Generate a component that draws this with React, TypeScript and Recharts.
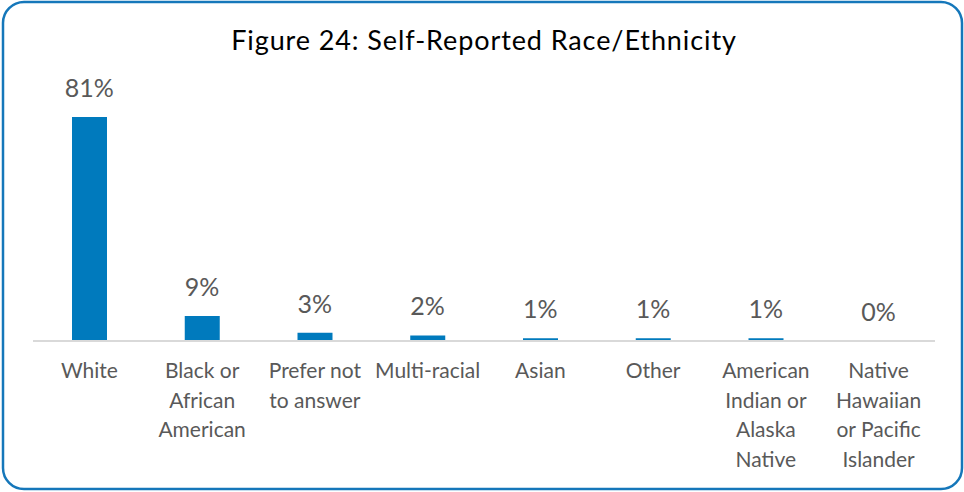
import React from 'react';
import { ComposedChart, Bar, Line, XAxis, YAxis, LabelList } from 'recharts';

const categories = [
  'White',
  'Black or\nAfrican\nAmerican',
  'Prefer not\nto answer',
  'Multi-racial',
  'Asian',
  'Other',
  'American\nIndian or\nAlaska\nNative',
  'Native\nHawaiian\nor Pacific\nIslander',
];
const percents = [81, 9, 3, 2, 1, 1, 1, 0];

const data = categories.map((name, i) => ({ name, value: percents[i] }));

const FONT = 'Lato, "Open Sans", sans-serif';
const GREY = '#595959';

// axis labels wrap over several lines, like the original
const MultiLineTick = (props: any) => {
  const { x, y, payload } = props;
  const lines = String(payload.value).split('\n');
  return (
    <text x={x} y={y + 37} textAnchor="middle" fill={GREY} fontSize={21} fontFamily={FONT}>
      {lines.map((line, i) => (
        <tspan key={i} x={x} dy={i === 0 ? 0 : 29.7}>
          {line}
        </tspan>
      ))}
    </text>
  );
};

const App: React.FC = () => {
  return (
    <div style={{ position: 'fixed', left: 0, top: 0, width: 964, height: 492, background: '#fff' }}>
      <ComposedChart width={964} height={492} data={data} margin={{ top: 92, right: 29, bottom: 0, left: 33 }}>
        <YAxis hide domain={[0, 90]} />
        <XAxis
          dataKey="name"
          height={151}
          interval={0}
          tickLine={false}
          tickSize={0}
          tickMargin={0}
          axisLine={{ stroke: '#d9d9d9', strokeWidth: 2 }}
          tick={<MultiLineTick />}
        />
        <Bar dataKey="value" fill="#007abd" barSize={35} isAnimationActive={false} />
        {/* invisible line only carries the value labels, so 0% still shows */}
        <Line dataKey="value" stroke="none" dot={false} activeDot={false} isAnimationActive={false}>
          <LabelList
            dataKey="value"
            position="top"
            offset={20}
            formatter={(v: any) => `${v}%`}
            style={{ fill: GREY, fontSize: 25, fontFamily: FONT }}
          />
        </Line>
      </ComposedChart>
      <svg width={964} height={492} style={{ position: 'absolute', left: 0, top: 0, pointerEvents: 'none' }}>
        <path
          d="M 24 2 H 941 A 21 21 0 0 1 962 23 V 468 A 21 21 0 0 1 941 489 H 24 A 21 21 0 0 1 3 468 V 23 A 21 21 0 0 1 24 2 Z"
          fill="none"
          stroke="#1577ba"
          strokeWidth={2.5}
        />
        <text x={484} y={50} textAnchor="middle" fontFamily={FONT} fontSize={27} letterSpacing={0.9} fill="#000">
          Figure 24: Self-Reported Race/Ethnicity
        </text>
      </svg>
    </div>
  );
};

export default App;
